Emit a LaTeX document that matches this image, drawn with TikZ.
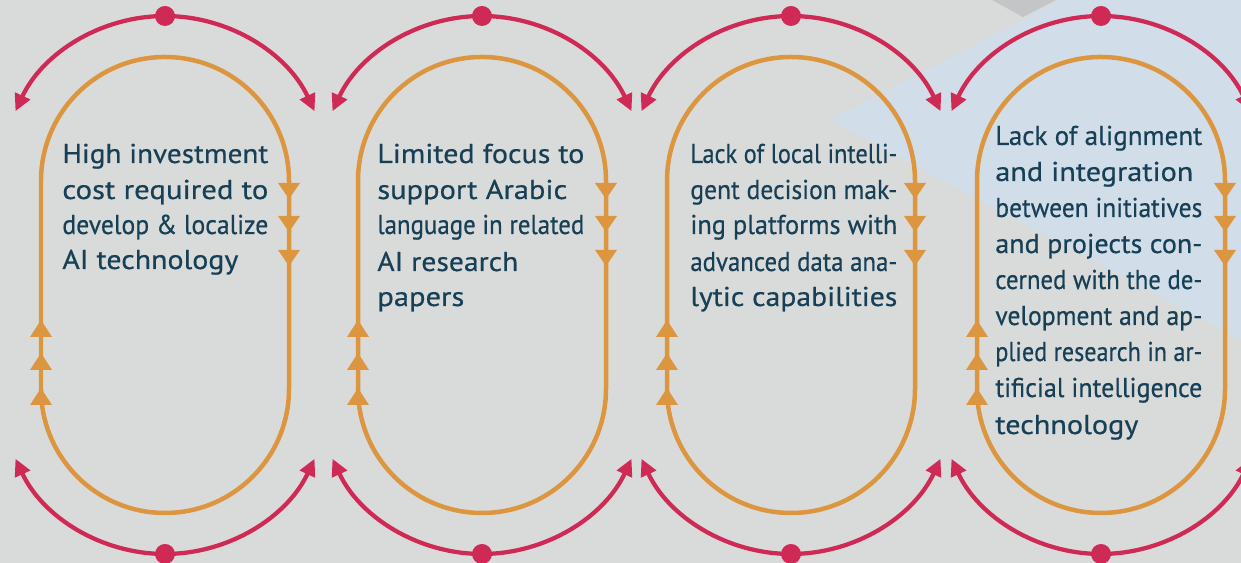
\documentclass[tikz,border=0pt]{standalone}
\usepackage{fontspec}
\setmainfont[FakeBold=0.5]{PT Sans}
\usepackage{graphicx}
\usetikzlibrary{arrows.meta}

\definecolor{bgGray}{HTML}{D9DBDA}
\definecolor{bgDark}{HTML}{C4C5C7}
\definecolor{bgBlue}{HTML}{D1DDE8}
\definecolor{loopRed}{HTML}{CE2A55}
\definecolor{loopOrange}{HTML}{DC9640}
\definecolor{txtNavy}{HTML}{173F56}

% stretch one text line to a given width in pixels
\newsavebox\linesave
\newlength\linewd
\newcommand{\fitline}[2]{%
  \sbox\linesave{#2}\setlength\linewd{\wd\linesave}%
  \pgfmathsetmacro\fitratio{#1*0.569055/\linewd}%
  \scalebox{\fitratio}[1]{\usebox\linesave}}

\begin{document}
\begin{tikzpicture}[x=0.02cm, y=0.02cm,
    orangeloop/.style={draw=loopOrange, line width=0.09cm},
    redarc/.style={draw=loopRed, line width=0.085cm,
      -{Triangle[length=0.34cm, width=0.32cm]}},
    reddot/.style={circle, fill=loopRed, inner sep=0, minimum size=0.4cm},
    txt/.style={text=txtNavy, font=\fontsize{15.5}{18}\selectfont,
      inner sep=0, anchor=base west}]
    % background
    \fill [bgGray] (0, 0) rectangle (1241, 563);
    \useasboundingbox (0, 0) rectangle (1241, 563);
    \clip (0, 0) rectangle (1241, 563);
    \fill [bgDark] (992, 563) -- (1023, 546) -- (1056, 563) -- cycle;
    \fill [bgBlue] (830, 443) -- (1060, 563) -- (1241, 563) -- (1241, 223) -- cycle;
    % loops
    \foreach \cx [count=\i] in {165, 482, 791, 1101} {
        \draw [orangeloop] (\cx-124, 382) -- (\cx-124, 174)
            arc [start angle=180, end angle=360, radius=124]
            -- (\cx+124, 382)
            arc [start angle=0, end angle=180, radius=124] -- cycle;
        \foreach \ty in {364, 331, 297}
            \fill [loopOrange] (\cx+113, \ty+16) -- (\cx+135, \ty+16) -- (\cx+124, \ty) -- cycle;
        \foreach \ty in {243, 210, 175}
            \fill [loopOrange] (\cx-135, \ty-17) -- (\cx-113, \ty-17) -- (\cx-124, \ty) -- cycle;
        \node [reddot] (top\i) at (\cx, 547) {};
        \node [reddot] (bot\i) at (\cx, 9) {};
        \draw [redarc] (top\i.center) arc [start angle=90, end angle=155, radius=165];
        \draw [redarc] (top\i.center) arc [start angle=90, end angle=25, radius=165];
        \draw [redarc] (bot\i.center) arc [start angle=270, end angle=205, radius=165];
        \draw [redarc] (bot\i.center) arc [start angle=270, end angle=335, radius=165];
    }
    % texts
    \foreach \ty/\w/\t [count=\j] in {400/206/{High investment}, 364/206/{cost required to},
        329/206/{develop \& localize}, 294/176/{AI technology}}
        \node [txt] (a\j) at (62, \ty) {\fitline{\w}{\t}};
    \foreach \ty/\w/\t [count=\j] in {400/207/{Limited focus to}, 364/190/{support Arabic},
        329/207/{language in related}, 292/141/{AI research}, 257/87/{papers}}
        \node [txt] (b\j) at (377, \ty) {\fitline{\w}{\t}};
    \foreach \ty/\w/\t [count=\j] in {400/207/{Lack of local intelli-}, 364/207/{gent decision mak-},
        329/207/{ing platforms with}, 292/207/{advanced data ana-}, 257/207/{lytic capabilities}}
        \node [txt] (c\j) at (690, \ty) {\fitline{\w}{\t}};
    \foreach \ty/\w/\t [count=\j] in {418/207/{Lack of alignment}, 382/198/{and integration},
        346/207/{between initiatives}, 310/207/{and projects con-}, 274/207/{cerned with the de-},
        238/207/{velopment and ap-}, 202/207/{plied research in ar-},
        166/207/{tificial intelligence}, 129/143/{technology}}
        \node [txt] (d\j) at (995, \ty) {\fitline{\w}{\t}};
\end{tikzpicture}
\end{document}
